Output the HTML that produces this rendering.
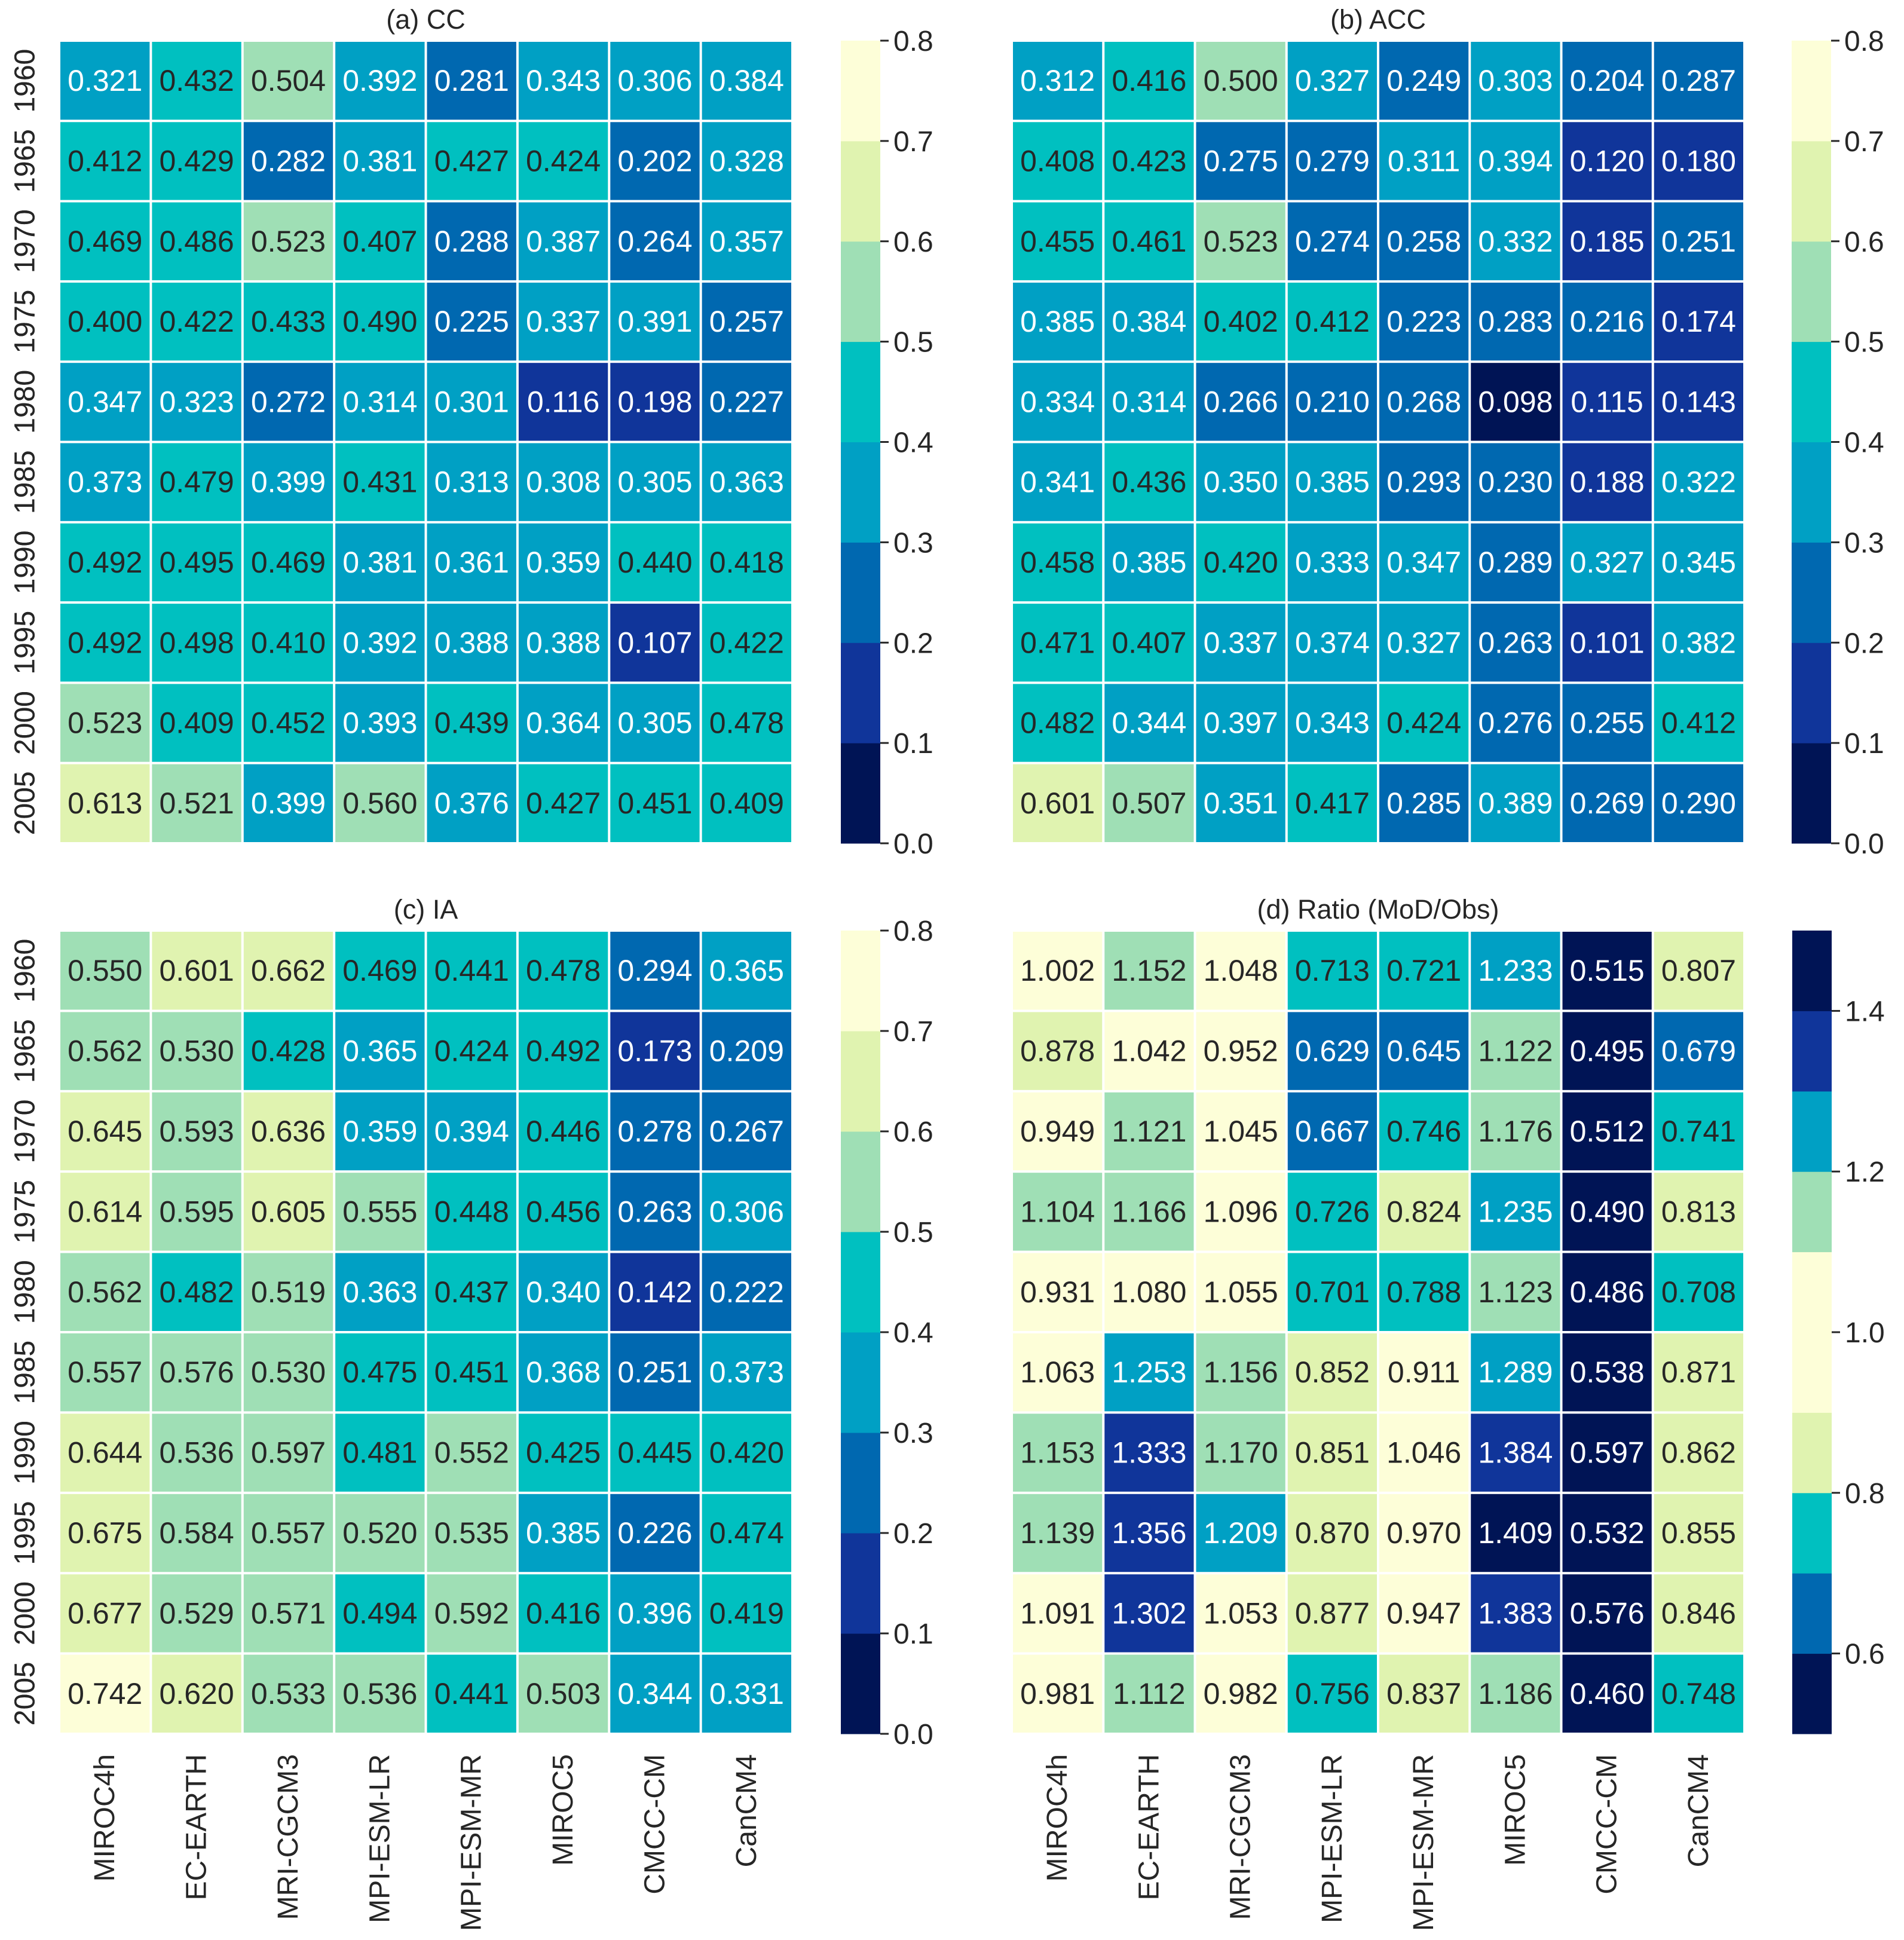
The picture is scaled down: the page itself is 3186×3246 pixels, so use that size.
<!DOCTYPE html>
<html><head><meta charset="utf-8"><style>
html,body{margin:0;padding:0;background:#fff;}
svg{display:block;font-family:"Liberation Sans",Arial,sans-serif;}
</style></head><body>
<svg id="fig" width="3186" height="3246" viewBox="0 0 3186 3246" xmlns="http://www.w3.org/2000/svg"></svg>
<script>
const models = ["MIROC4h","EC-EARTH","MRI-CGCM3","MPI-ESM-LR","MPI-ESM-MR","MIROC5","CMCC-CM","CanCM4"];
const years = ["1960","1965","1970","1975","1980","1985","1990","1995","2000","2005"];
const ccValues = [
[0.321,0.432,0.504,0.392,0.281,0.343,0.306,0.384],
[0.412,0.429,0.282,0.381,0.427,0.424,0.202,0.328],
[0.469,0.486,0.523,0.407,0.288,0.387,0.264,0.357],
[0.400,0.422,0.433,0.490,0.225,0.337,0.391,0.257],
[0.347,0.323,0.272,0.314,0.301,0.116,0.198,0.227],
[0.373,0.479,0.399,0.431,0.313,0.308,0.305,0.363],
[0.492,0.495,0.469,0.381,0.361,0.359,0.440,0.418],
[0.492,0.498,0.410,0.392,0.388,0.388,0.107,0.422],
[0.523,0.409,0.452,0.393,0.439,0.364,0.305,0.478],
[0.613,0.521,0.399,0.560,0.376,0.427,0.451,0.409]];
const accValues = [
[0.312,0.416,0.500,0.327,0.249,0.303,0.204,0.287],
[0.408,0.423,0.275,0.279,0.311,0.394,0.120,0.180],
[0.455,0.461,0.523,0.274,0.258,0.332,0.185,0.251],
[0.385,0.384,0.402,0.412,0.223,0.283,0.216,0.174],
[0.334,0.314,0.266,0.210,0.268,0.098,0.115,0.143],
[0.341,0.436,0.350,0.385,0.293,0.230,0.188,0.322],
[0.458,0.385,0.420,0.333,0.347,0.289,0.327,0.345],
[0.471,0.407,0.337,0.374,0.327,0.263,0.101,0.382],
[0.482,0.344,0.397,0.343,0.424,0.276,0.255,0.412],
[0.601,0.507,0.351,0.417,0.285,0.389,0.269,0.290]];
const iaValues = [
[0.550,0.601,0.662,0.469,0.441,0.478,0.294,0.365],
[0.562,0.530,0.428,0.365,0.424,0.492,0.173,0.209],
[0.645,0.593,0.636,0.359,0.394,0.446,0.278,0.267],
[0.614,0.595,0.605,0.555,0.448,0.456,0.263,0.306],
[0.562,0.482,0.519,0.363,0.437,0.340,0.142,0.222],
[0.557,0.576,0.530,0.475,0.451,0.368,0.251,0.373],
[0.644,0.536,0.597,0.481,0.552,0.425,0.445,0.420],
[0.675,0.584,0.557,0.520,0.535,0.385,0.226,0.474],
[0.677,0.529,0.571,0.494,0.592,0.416,0.396,0.419],
[0.742,0.620,0.533,0.536,0.441,0.503,0.344,0.331]];
const ratioValues = [
[1.002,1.152,1.048,0.713,0.721,1.233,0.515,0.807],
[0.878,1.042,0.952,0.629,0.645,1.122,0.495,0.679],
[0.949,1.121,1.045,0.667,0.746,1.176,0.512,0.741],
[1.104,1.166,1.096,0.726,0.824,1.235,0.490,0.813],
[0.931,1.080,1.055,0.701,0.788,1.123,0.486,0.708],
[1.063,1.253,1.156,0.852,0.911,1.289,0.538,0.871],
[1.153,1.333,1.170,0.851,1.046,1.384,0.597,0.862],
[1.139,1.356,1.209,0.870,0.970,1.409,0.532,0.855],
[1.091,1.302,1.053,0.877,0.947,1.383,0.576,0.846],
[0.981,1.112,0.982,0.756,0.837,1.186,0.460,0.748]];
const ticksA = ["0.0","0.1","0.2","0.3","0.4","0.5","0.6","0.7","0.8"];
const ticksD = ["0.6","0.8","1.0","1.2","1.4"];

const colorsA = ["#001455","#10359a","#0068b0","#00a0c4","#00c0c0","#9fdfb5","#e0f3b0","#fdfed8"];
const colorsD = ["#001455","#0068b0","#00c0c0","#e0f3b0","#fdfed8","#fdfed8","#9fdfb5","#00a0c4","#10359a","#001455"];
const darkText = {"#00c0c0":1,"#9fdfb5":1,"#e0f3b0":1,"#fdfed8":1};

const NS = "http://www.w3.org/2000/svg";
const svg = document.getElementById("fig");
function mk(tag, attrs, parent){
  const e = document.createElementNS(NS, tag);
  for (const k in attrs) e.setAttribute(k, attrs[k]);
  (parent||svg).appendChild(e);
  return e;
}

function panel(key, title, values, x0, x1, y0, y1, vmin, vmax, colors, cbx, ticks, showX){
  const g = mk("g", {});
  
  
  const cw = (x1 - x0) / models.length, ch = (y1 - y0) / years.length;
  const nb = colors.length, bw = (vmax - vmin) / nb;
  const colorOf = v => { let i = Math.floor((v - vmin) / bw + 1e-9); i = Math.max(0, Math.min(nb - 1, i)); return colors[i]; };
  const t = mk("text", {x:(x0+x1)/2, y:y0-20, "font-size":45, "text-anchor":"middle", fill:"#262626"}, g);
  t.textContent = title;
  
  
  for (let r = 0; r < years.length; r++){
    for (let c = 0; c < models.length; c++){
      const v = values[r][c];
      const col = colorOf(v);
      const rect = mk("rect", {x:x0+c*cw+2, y:y0+r*ch+2, width:cw-4, height:ch-4, fill:col}, g);
      
      
      const tx = mk("text", {x:x0+(c+0.5)*cw, y:y0+(r+0.5)*ch+17, "font-size":50, "text-anchor":"middle", fill: darkText[col] ? "#262626" : "#ffffff"}, g);
      tx.textContent = v.toFixed(3);
      
      
    }
  }
  for (let r = 0; r < years.length; r++){
    const cy = y0 + (r+0.5)*ch, cx = 42;
    const yl = mk("text", {x:cx, y:cy, "font-size":48, "text-anchor":"middle", "dominant-baseline":"central", fill:"#262626", transform:`rotate(-90 ${cx} ${cy})`}, g);
    yl.textContent = years[r];
    
    
  }
  if (showX) {
    for (let c = 0; c < models.length; c++){
      const cx = x0 + (c+0.5)*cw, cy = y1 + 34;
      const xl = mk("text", {x:cx, y:cy, "font-size":48, "text-anchor":"end", "dominant-baseline":"central", fill:"#262626", transform:`rotate(-90 ${cx} ${cy})`}, g);
      xl.textContent = models[c];
      
      
    }
  }
  const cb = mk("g", {}, g);
  
  
  const sh = (y1 - y0) / nb;
  for (let i = 0; i < nb; i++){
    const br = mk("rect", {x:cbx, y:y1-(i+1)*sh, width:66, height:sh+0.5, fill:colors[i]}, cb);
    
    
  }
  const ys = v => y1 - (v - vmin) / (vmax - vmin) * (y1 - y0);
  ticks.forEach(s => {
    const yy = ys(parseFloat(s));
    mk("line", {x1:cbx+66, x2:cbx+80, y1:yy, y2:yy, stroke:"#262626", "stroke-width":3}, cb);
    const tl = mk("text", {x:cbx+88, y:yy+17, "font-size":48, fill:"#262626"}, cb);
    tl.textContent = s;
    
    
  });
}

panel("cc", "(a) CC", ccValues, 99, 1326, 68, 1411, 0, 0.8, colorsA, 1407, ticksA, false);
panel("acc", "(b) ACC", accValues, 1693, 2919, 68, 1411, 0, 0.8, colorsA, 2998, ticksA, false);
panel("ia", "(c) IA", iaValues, 99, 1326, 1557, 2901, 0, 0.8, colorsA, 1407, ticksA, true);
panel("ratio", "(d) Ratio (MoD/Obs)", ratioValues, 1693, 2919, 1557, 2901, 0.5, 1.5, colorsD, 2999, ticksD, true);
</script>
</body></html>
